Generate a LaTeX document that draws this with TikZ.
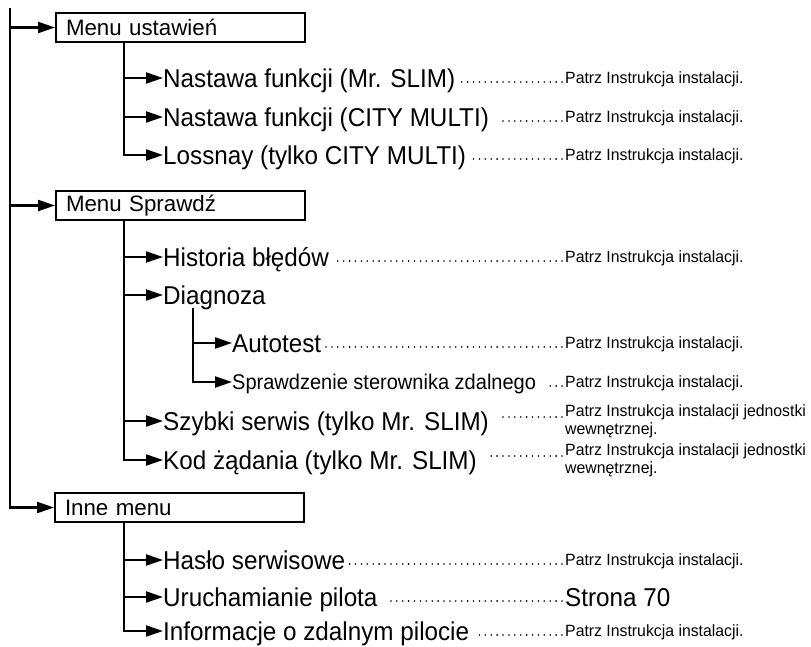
\documentclass[tikz,border=0pt]{standalone}
\usepackage{fontspec}
\setmainfont{Liberation Sans}
\newfontfamily\narrowfont[FakeStretch=0.94]{Liberation Sans}
\newfontfamily\notefont[FakeStretch=0.97]{Liberation Sans}
\usetikzlibrary{arrows.meta}
\tikzset{
 ln/.style={line width=2.2pt, line join=miter},
 arr/.style={ln, -{Triangle[length=17pt,width=11pt]}},
 menubox/.style={draw, line width=2pt, anchor=west, minimum height=29pt, text width=229pt, inner xsep=10pt, inner ysep=0pt, align=left, font=\fontsize{22.3}{26}\selectfont},
 item/.style={anchor=west, inner sep=0pt, font=\narrowfont\fontsize{25.8}{30}\selectfont, text height=18.5pt, text depth=0pt},
 smallitem/.style={anchor=west, inner sep=0pt, font=\narrowfont\fontsize{21.3}{25}\selectfont, text height=15.2pt, text depth=0pt},
 note/.style={anchor=west, inner sep=0pt, font=\notefont\fontsize{16.3}{18}\selectfont, text height=11.7pt, text depth=0pt},
 note2/.style={anchor=west, inner sep=0pt, font=\notefont\fontsize{16.3}{18}\selectfont, align=left},
 dots/.style={line width=1.8pt, line cap=round, dash pattern=on 0pt off 5.9pt},
}
\begin{document}
\begin{tikzpicture}[x=1pt,y=-1pt]
\useasboundingbox (0,0) rectangle (811,647);
% menu boxes
\node[menubox] (b1) at (55,27.5) {Menu ustawień};
\node[menubox] (b2) at (55,205.5) {Menu Sprawdź};
\node[menubox] (b3) at (54,507.5) {Inne menu};
% main line
\coordinate (top) at (10,8);
\draw[arr] (top) |- (b3.west);
\draw[arr] (b1.west -| top) -- (b1.west);
\draw[arr] (b2.west -| top) -- (b2.west);
% branch x positions
\coordinate (g1) at (124,0);
\coordinate (g3) at (193,308);
% group 1
\node[item] (i11) at (163,78) {Nastawa funkcji (Mr. SLIM)};
\node[item] (i12) at (163,117) {Nastawa funkcji (CITY MULTI)};
\node[item] (i13) at (163,155) {Lossnay (tylko CITY MULTI)};
\node[note] (r11) at (565,78) {Patrz Instrukcja instalacji.};
\node[note] (r12) at (565,117) {Patrz Instrukcja instalacji.};
\node[note] (r13) at (565,155) {Patrz Instrukcja instalacji.};
\draw[arr] (b1.south -| g1) |- (i13.west);
\draw[arr] (i11.west -| g1) -- (i11.west);
\draw[arr] (i12.west -| g1) -- (i12.west);
\draw[dots] ([xshift=-3pt,yshift=-4pt]r11.west) -- ([xshift=4pt,yshift=-4pt]i11.east);
\draw[dots] ([xshift=-3pt,yshift=-4pt]r12.west) -- ([xshift=9pt,yshift=-4pt]i12.east);
\draw[dots] ([xshift=-3pt,yshift=-4pt]r13.west) -- ([xshift=4pt,yshift=-4pt]i13.east);
% group 2
\node[item] (i21) at (163,257) {Historia błędów};
\node[item] (i22) at (163,295) {Diagnoza};
\node[item] (i23) at (232,343) {Autotest};
\node[smallitem] (i24) at (232,382) {Sprawdzenie sterownika zdalnego};
\node[item] (i25) at (163,421) {Szybki serwis (tylko Mr. SLIM)};
\node[item] (i26) at (163,460) {Kod żądania (tylko Mr. SLIM)};
\node[note] (r21) at (565,257) {Patrz Instrukcja instalacji.};
\node[note] (r23) at (565,343) {Patrz Instrukcja instalacji.};
\node[note] (r24) at (565,382) {Patrz Instrukcja instalacji.};
\node[note2] (r25) at (565,421) {Patrz Instrukcja instalacji jednostki\\wewnętrznej.};
\node[note2] (r26) at (565,460) {Patrz Instrukcja instalacji jednostki\\wewnętrznej.};
\draw[arr] (b2.south -| g1) |- (i26.west);
\draw[arr] (i21.west -| g1) -- (i21.west);
\draw[arr] (i22.west -| g1) -- (i22.west);
\draw[arr] (i25.west -| g1) -- (i25.west);
\draw[arr] (g3) |- (i24.west);
\draw[arr] (i23.west -| g3) -- (i23.west);
\draw[dots] ([xshift=-3pt,yshift=-4pt]r21.west) -- ([xshift=6pt,yshift=-4pt]i21.east);
\draw[dots] ([xshift=-3pt,yshift=-4pt]r23.west) -- ([xshift=4pt,yshift=-4pt]i23.east);
\draw[dots] ([xshift=-3pt,yshift=-4pt]r24.west) -- ([xshift=9pt,yshift=-4pt]i24.east);
\draw[dots] ([xshift=-3pt,yshift=4pt]r25.west) -- ([xshift=9pt,yshift=4pt]i25.west -| i25.east);
\draw[dots] ([xshift=-3pt,yshift=4pt]r26.west) -- ([xshift=9pt,yshift=4pt]i26.west -| i26.east);
% group 3
\node[item] (i31) at (163,560) {Hasło serwisowe};
\node[item] (i32) at (163,597) {Uruchamianie pilota};
\node[item] (i33) at (163,631) {Informacje o zdalnym pilocie};
\node[note] (r31) at (565,560) {Patrz Instrukcja instalacji.};
\node[item] (r32) at (565,597) {Strona 70};
\node[note] (r33) at (565,631) {Patrz Instrukcja instalacji.};
\draw[arr] (b3.south -| g1) |- (i33.west);
\draw[arr] (i31.west -| g1) -- (i31.west);
\draw[arr] (i32.west -| g1) -- (i32.west);
\draw[dots] ([xshift=-3pt,yshift=-4pt]r31.west) -- ([xshift=4pt,yshift=-4pt]i31.east);
\draw[dots] ([xshift=-3pt,yshift=-4pt]r32.west) -- ([xshift=9pt,yshift=-4pt]i32.east);
\draw[dots] ([xshift=-3pt,yshift=-4pt]r33.west) -- ([xshift=9pt,yshift=-4pt]i33.east);
\end{tikzpicture}
\end{document}
